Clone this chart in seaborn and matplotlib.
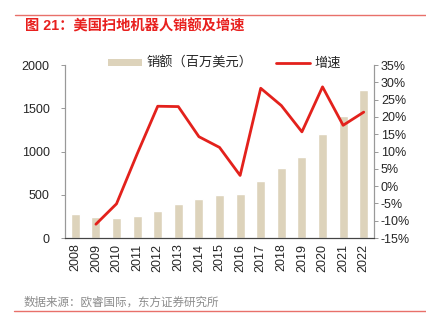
import numpy as np
import pandas as pd
import matplotlib
matplotlib.use("Agg")
import matplotlib.pyplot as plt
import seaborn as sns
from matplotlib.lines import Line2D
from matplotlib.patches import Patch

years = ["2008", "2009", "2010", "2011", "2012", "2013", "2014", "2015",
         "2016", "2017", "2018", "2019", "2020", "2021", "2022"]
sales = [277, 246, 235, 258, 315, 388, 446, 496, 512, 658, 808, 935, 1204, 1415, 1715]
growth = [np.nan, -11.0, -5.1, 9.3, 23.1, 23.0, 14.3, 11.2, 3.1, 28.3, 23.3, 15.7, 28.7, 17.6, 21.4]
left_ticks = [0, 500, 1000, 1500, 2000]
right_ticks = [-15, -10, -5, 0, 5, 10, 15, 20, 25, 30, 35]

title = "图 21：美国扫地机器人销额及增速"
source = "数据来源：欧睿国际，东方证券研究所"
bar_label = "销额（百万美元）"
line_label = "增速"

sns.set_theme(style="white")
plt.rcParams['font.family'] = ['Liberation Sans', 'Noto Sans CJK SC', 'DejaVu Sans']

bar_color = "#DDD3BB"
line_color = "#E3211C"

df = pd.DataFrame({"year": years, "sales": sales, "growth": growth})
df["pos"] = np.arange(len(df))

fig = plt.figure(figsize=(4.26, 3.27), dpi=100)
ax = fig.add_axes([0.1526, 0.272, 0.7254, 0.529])

sns.barplot(data=df, x="year", y="sales", color=bar_color, width=0.43,
            saturation=1, ax=ax)
ax.set_ylim(0, 2000)
ax.set_xlim(-0.5, len(years) - 0.5)
ax.set_yticks(left_ticks)
ax.set_yticklabels([str(t) for t in left_ticks], fontsize=9)
ax.set_xlabel("")
ax.set_ylabel("")
ax.set_xticks(np.arange(len(years)))
ax.set_xticklabels(years, rotation=90, fontsize=9)
ax.tick_params(axis="x", length=0, pad=4)
ax.set_xticks(np.arange(len(years) + 1) - 0.5, minor=True)
ax.tick_params(axis="x", which="minor", direction="in", length=3, color="#555555", width=0.7)
ax.tick_params(axis="y", direction="out", length=3, color="#999999", width=0.7, pad=8)

ax2 = ax.twinx()
sns.lineplot(data=df, x="pos", y="growth", color=line_color, linewidth=2, ax=ax2)
ax2.set_ylim(-15, 35)
ax2.set_xlim(-0.5, len(years) - 0.5)
ax2.set_yticks(right_ticks)
ax2.set_yticklabels([f"{t}%" for t in right_ticks], fontsize=9)
ax2.set_ylabel("")
ax2.set_xlabel("")
ax2.tick_params(axis="y", direction="out", length=3, color="#999999", width=0.7, pad=2)

for a in (ax, ax2):
    a.spines["top"].set_visible(False)
    a.spines["left"].set_color("#999999")
    a.spines["right"].set_color("#999999")
    a.spines["bottom"].set_color("#444444")
    for s in a.spines.values():
        s.set_linewidth(0.8)
    a.grid(False)

handles = [Patch(facecolor=bar_color, edgecolor="none", label=bar_label),
           Line2D([0], [0], color=line_color, linewidth=2, label=line_label)]
leg = ax.legend(handles=handles, loc="center", bbox_to_anchor=(0.515, 1.01), ncol=2,
                frameon=False, fontsize=9.5, handlelength=2.6, handleheight=0.45,
                columnspacing=1.8, handletextpad=0.3)
leg.set_zorder(10)

fig.text(0.058, 1 - 26 / 327, title, color="#E8201E", fontsize=10.3, fontweight="bold",
         va="center", ha="left", family=['Liberation Sans', 'Noto Sans CJK SC'])
fig.text(0.056, 1 - 302 / 327, source, color="#8C8C8C", fontsize=8.3, va="center",
         ha="left", family=['Noto Sans CJK SC'])
fig.add_artist(Line2D([15 / 426, 1.0], [1 - 15 / 327] * 2, color="#E8706A", linewidth=1,
                      transform=fig.transFigure))
fig.add_artist(Line2D([14 / 426, 1.0], [1 - 310.5 / 327] * 2, color="#E8706A", linewidth=1,
                      transform=fig.transFigure))

fig.savefig("out.png", dpi=100)
